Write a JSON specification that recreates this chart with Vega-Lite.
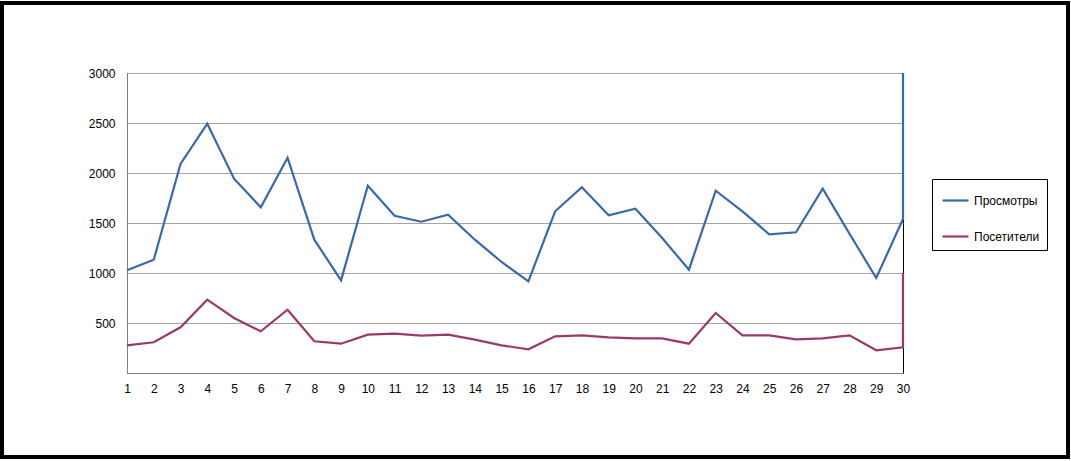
{
  "$schema": "https://vega.github.io/schema/vega-lite/v6.json",
  "width": 776,
  "height": 300,
  "autosize": "none",
  "padding": {"left": 127, "top": 73, "right": 168, "bottom": 88},
  "background": "white",
  "config": {
    "font": "Liberation Sans",
    "view": {"stroke": "black", "strokeWidth": 1},
    "axis": {"labelFont": "Liberation Sans", "labelFontSize": 12, "labelColor": "black", "ticks": false, "domainColor": "#808080", "domainWidth": 1, "gridColor": "#a6a6a6", "gridWidth": 1, "labelOverlap": false, "labelBound": false}
  },
  "layer": [
    {
      "data": {"values": [{"frame": 1}]},
      "mark": {"type": "rect", "filled": false, "stroke": "black", "strokeWidth": 4, "clip": false},
      "encoding": {
        "x": {"datum": -3.671, "type": "quantitative", "scale": {"domain": [1, 30], "nice": false, "zero": false},
          "axis": {"title": null, "values": [1,2,3,4,5,6,7,8,9,10,11,12,13,14,15,16,17,18,19,20,21,22,23,24,25,26,27,28,29,30], "format": "d", "grid": false, "labelPadding": 10, "labelFlush": false, "labelOverlap": false, "labelBound": false}},
        "x2": {"datum": 36.166},
        "y": {"datum": 3700, "type": "quantitative", "scale": {"domain": [0, 3000], "nice": false},
          "axis": {"title": null, "values": [500, 1000, 1500, 2000, 2500, 3000], "format": "d", "grid": true, "labelPadding": 12, "labelOverlap": false}},
        "y2": {"datum": -840}
      }
    },
    {
      "data": {"values": [
        {"day": 1, "series": "Просмотры", "value": 1027, "ord": 1},
        {"day": 2, "series": "Просмотры", "value": 1133, "ord": 2},
        {"day": 3, "series": "Просмотры", "value": 2090, "ord": 3},
        {"day": 4, "series": "Просмотры", "value": 2493, "ord": 4},
        {"day": 5, "series": "Просмотры", "value": 1943, "ord": 5},
        {"day": 6, "series": "Просмотры", "value": 1657, "ord": 6},
        {"day": 7, "series": "Просмотры", "value": 2153, "ord": 7},
        {"day": 8, "series": "Просмотры", "value": 1333, "ord": 8},
        {"day": 9, "series": "Просмотры", "value": 927, "ord": 9},
        {"day": 10, "series": "Просмотры", "value": 1873, "ord": 10},
        {"day": 11, "series": "Просмотры", "value": 1573, "ord": 11},
        {"day": 12, "series": "Просмотры", "value": 1513, "ord": 12},
        {"day": 13, "series": "Просмотры", "value": 1583, "ord": 13},
        {"day": 14, "series": "Просмотры", "value": 1333, "ord": 14},
        {"day": 15, "series": "Просмотры", "value": 1110, "ord": 15},
        {"day": 16, "series": "Просмотры", "value": 917, "ord": 16},
        {"day": 17, "series": "Просмотры", "value": 1617, "ord": 17},
        {"day": 18, "series": "Просмотры", "value": 1857, "ord": 18},
        {"day": 19, "series": "Просмотры", "value": 1577, "ord": 19},
        {"day": 20, "series": "Просмотры", "value": 1643, "ord": 20},
        {"day": 21, "series": "Просмотры", "value": 1350, "ord": 21},
        {"day": 22, "series": "Просмотры", "value": 1033, "ord": 22},
        {"day": 23, "series": "Просмотры", "value": 1823, "ord": 23},
        {"day": 24, "series": "Просмотры", "value": 1617, "ord": 24},
        {"day": 25, "series": "Просмотры", "value": 1387, "ord": 25},
        {"day": 26, "series": "Просмотры", "value": 1407, "ord": 26},
        {"day": 27, "series": "Просмотры", "value": 1843, "ord": 27},
        {"day": 28, "series": "Просмотры", "value": 1393, "ord": 28},
        {"day": 29, "series": "Просмотры", "value": 950, "ord": 29},
        {"day": 30, "series": "Просмотры", "value": 1540, "ord": 30},
        {"day": 30, "series": "Просмотры", "value": 3000, "ord": 31},
        {"day": 1, "series": "Посетители", "value": 277, "ord": 1},
        {"day": 2, "series": "Посетители", "value": 307, "ord": 2},
        {"day": 3, "series": "Посетители", "value": 457, "ord": 3},
        {"day": 4, "series": "Посетители", "value": 733, "ord": 4},
        {"day": 5, "series": "Посетители", "value": 550, "ord": 5},
        {"day": 6, "series": "Посетители", "value": 417, "ord": 6},
        {"day": 7, "series": "Посетители", "value": 633, "ord": 7},
        {"day": 8, "series": "Посетители", "value": 317, "ord": 8},
        {"day": 9, "series": "Посетители", "value": 293, "ord": 9},
        {"day": 10, "series": "Посетители", "value": 383, "ord": 10},
        {"day": 11, "series": "Посетители", "value": 393, "ord": 11},
        {"day": 12, "series": "Посетители", "value": 373, "ord": 12},
        {"day": 13, "series": "Посетители", "value": 383, "ord": 13},
        {"day": 14, "series": "Посетители", "value": 333, "ord": 14},
        {"day": 15, "series": "Посетители", "value": 277, "ord": 15},
        {"day": 16, "series": "Посетители", "value": 237, "ord": 16},
        {"day": 17, "series": "Посетители", "value": 367, "ord": 17},
        {"day": 18, "series": "Посетители", "value": 377, "ord": 18},
        {"day": 19, "series": "Посетители", "value": 357, "ord": 19},
        {"day": 20, "series": "Посетители", "value": 347, "ord": 20},
        {"day": 21, "series": "Посетители", "value": 347, "ord": 21},
        {"day": 22, "series": "Посетители", "value": 293, "ord": 22},
        {"day": 23, "series": "Посетители", "value": 600, "ord": 23},
        {"day": 24, "series": "Посетители", "value": 377, "ord": 24},
        {"day": 25, "series": "Посетители", "value": 377, "ord": 25},
        {"day": 26, "series": "Посетители", "value": 337, "ord": 26},
        {"day": 27, "series": "Посетители", "value": 347, "ord": 27},
        {"day": 28, "series": "Посетители", "value": 377, "ord": 28},
        {"day": 29, "series": "Посетители", "value": 227, "ord": 29},
        {"day": 30, "series": "Посетители", "value": 257, "ord": 30},
        {"day": 30, "series": "Посетители", "value": 1000, "ord": 31}
      ]},
      "mark": {"type": "line", "strokeWidth": 2.2},
      "encoding": {
        "x": {
          "field": "day", "type": "quantitative",
          "scale": {"domain": [1, 30], "nice": false, "zero": false},
          "axis": {"title": null, "values": [1,2,3,4,5,6,7,8,9,10,11,12,13,14,15,16,17,18,19,20,21,22,23,24,25,26,27,28,29,30], "format": "d", "grid": false, "labelPadding": 10, "labelFlush": false, "labelOverlap": false, "labelBound": false}
        },
        "y": {
          "field": "value", "type": "quantitative",
          "scale": {"domain": [0, 3000], "nice": false},
          "axis": {"title": null, "values": [500, 1000, 1500, 2000, 2500, 3000], "format": "d", "grid": true, "labelPadding": 12, "labelOverlap": false}
        },
        "color": {
          "field": "series", "type": "nominal",
          "scale": {"domain": ["Просмотры", "Посетители"], "range": ["#3b68a8", "#993a6a"]},
          "legend": {
            "title": null, "orient": "none", "legendX": 805, "legendY": 106,
            "symbolType": "stroke", "symbolSize": 676, "symbolStrokeWidth": 2.2,
            "padding": 7, "rowPadding": 15, "symbolOffset": 2,
            "labelFontSize": 12, "labelFont": "Liberation Sans", "labelColor": "black", "labelOffset": 4,
            "strokeColor": "black", "fillColor": "white"
          }
        },
        "order": {"field": "ord", "type": "quantitative"}
      }
    }
  ]
}
